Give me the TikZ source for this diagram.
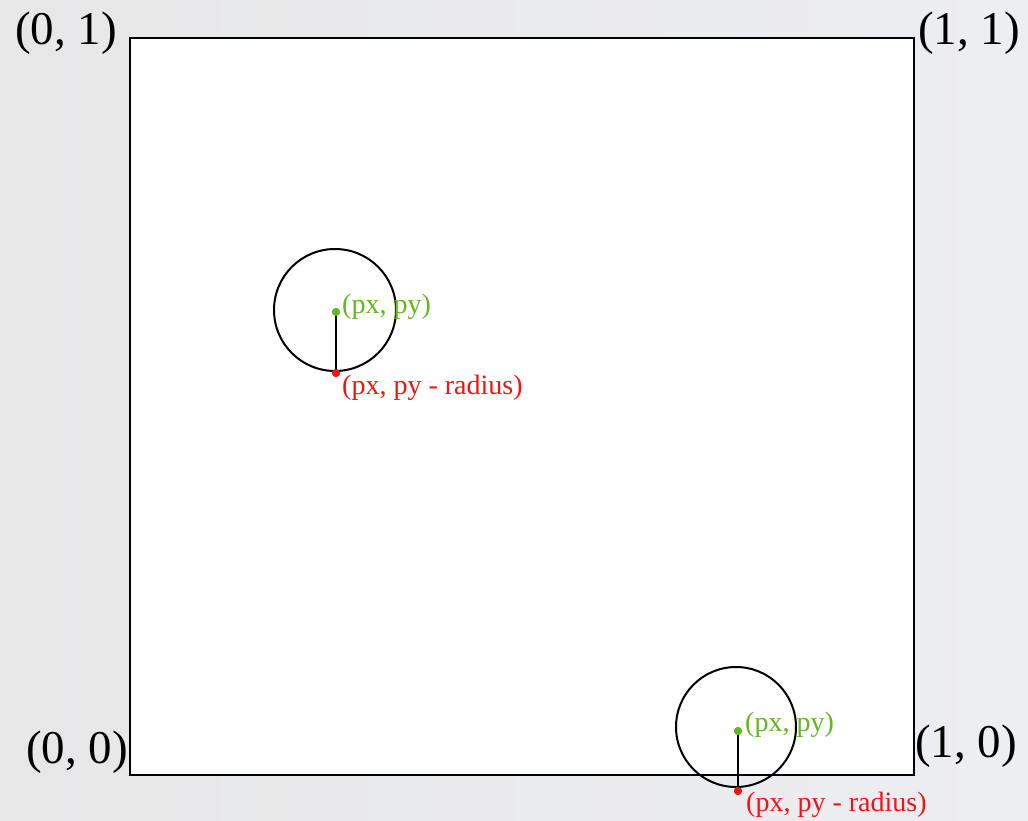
\documentclass[tikz,border=0pt]{standalone}
\usepackage{fontspec}
\setmainfont{Liberation Serif}
\usetikzlibrary{positioning}
\definecolor{bgleft}{RGB}{231,231,232}
\definecolor{bgright}{RGB}{237,238,241}
\definecolor{ptgreen}{RGB}{98,184,30}
\definecolor{ptred}{RGB}{240,20,20}
\begin{document}
\begin{tikzpicture}[x=1pt, y=-1pt]
	\tikzstyle{corner}=[font=\fontsize{47}{50}\selectfont, inner sep=0pt]
\tikzstyle{ball}=[circle, draw=black, line width=2pt, inner sep=0pt]
\tikzstyle{gdot}=[circle, fill=ptgreen, inner sep=0pt, minimum size=8pt]
\tikzstyle{rdot}=[circle, fill=ptred, inner sep=0pt, minimum size=8pt]
\tikzstyle{glabel}=[text=ptgreen, font=\fontsize{28}{30}\selectfont, inner sep=0pt, anchor=west]
\tikzstyle{rlabel}=[text=ptred, font=\fontsize{28}{30}\selectfont, inner sep=0pt, anchor=west]
\tikzstyle{connect}=[line width=2pt]
\shade[left color=bgleft, right color=bgright] (0,0) rectangle (1028,821);
\useasboundingbox (0,0) rectangle (1028,821);
\fill[white] (130,38) rectangle (914,775);
\coordinate (tl) at (130,38);
\coordinate (tr) at (914,38);
\coordinate (bl) at (130,775);
\coordinate (br) at (914,775);
\node[corner] (lab01) at (66,33) {(0, 1)};
\node[corner] (lab11) at (969,33) {(1, 1)};
\node[corner] (lab00) at (77,752) {(0, 0)};
\node[corner] (lab10) at (966,746) {(1, 0)};
% upper ball
\node[ball, minimum size=122pt] (ballA) at (335,310) {};
\node[gdot] (centA) at (336,312) {};
\node[rdot] (botA) at (336,373) {};
\node[glabel] (centAlab) at (342,307) {(px, py)};
\node[rlabel] (botAlab) at (342,388) {(px, py - radius)};
% lower ball, touching the floor
\node[ball, minimum size=120pt] (ballB) at (736,727) {};
\node[gdot] (centB) at (738,731) {};
\node[rdot] (botB) at (738,791) {};
\node[glabel] (centBlab) at (745,725) {(px, py)};
\node[rlabel] (botBlab) at (746,805) {(px, py - radius)};
\draw[line width=2.6pt] (tl) -- (tr) -- (br) -- (bl) -- cycle;
\path (centA.center) edge [connect] (botA.center)
      (centB.center) edge [connect] (botB.center);
\node[gdot] at (centA) {};
\node[rdot] at (botA) {};
\node[gdot] at (centB) {};
\node[rdot] at (botB) {};
\end{tikzpicture}
\end{document}
